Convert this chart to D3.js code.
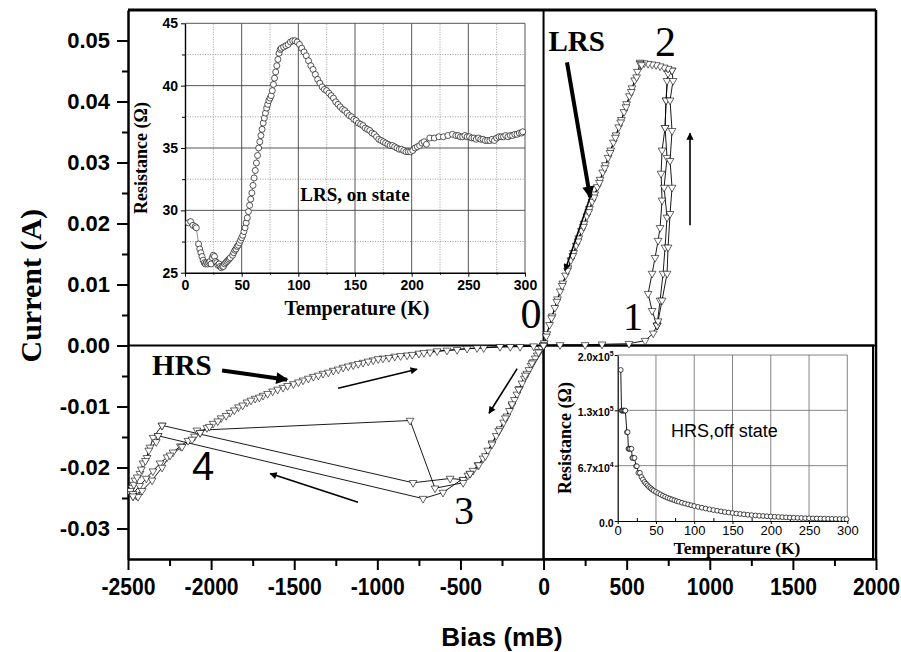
<!DOCTYPE html>
<html>
<head>
<meta charset="utf-8">
<script src="https://cdn.jsdelivr.net/npm/d3@7"></script>
<style>
  body { margin: 0; background: #fff; }
  svg { display: block; }
</style>
</head>
<body>
<div id="chart"></div>
<script>
// ---------- main I-V loop : [bias (mB), current (A)] ----------
const hrsPos = [[0, 0], [99, 0.0001], [250, 0.0001], [352, 0.0002], [514, 0.0003], [611, 0.0008], [660, 0.0020], [683, 0.0033]];
const setUp1 = [[683, 0.0033], [701, 0.0074], [719, 0.0118], [731, 0.0161], [743, 0.0210], [725, 0.0259], [743, 0.0308], [731, 0.0357], [737, 0.0402], [743, 0.0434], [749, 0.0451]];
const setUp2 = [[683, 0.0033], [653, 0.0057], [629, 0.0085], [653, 0.0118], [671, 0.0144], [689, 0.0172], [701, 0.0193], [713, 0.0238], [707, 0.0282], [713, 0.0320], [731, 0.0357], [737, 0.0402], [749, 0.0446]];
const setUp3 = [[689, 0.0040], [713, 0.0074], [743, 0.0118], [749, 0.0161], [761, 0.0216], [773, 0.0259], [761, 0.0303], [773, 0.0352], [761, 0.0402], [779, 0.0434], [773, 0.0451]];
const topFlat = [[773, 0.0451], [749, 0.0454], [725, 0.0456], [701, 0.0458], [677, 0.0460], [653, 0.0461], [629, 0.0462], [605, 0.0463], [581, 0.0464]];
const lrsDown1 = [[581, 0.0462], [565, 0.0449], [548, 0.0435], [532, 0.0422], [516, 0.0409], [500, 0.0396], [484, 0.0383], [468, 0.0370], [452, 0.0358], [436, 0.0345], [420, 0.0333], [404, 0.0320], [388, 0.0308], [372, 0.0296], [356, 0.0284], [340, 0.0272], [324, 0.0260], [308, 0.0248], [292, 0.0236], [276, 0.0224], [260, 0.0212], [244, 0.0200], [228, 0.0188], [212, 0.0176], [196, 0.0164], [180, 0.0152], [164, 0.0140], [148, 0.0127], [132, 0.0115], [116, 0.0102], [100, 0.0089], [84, 0.0076], [68, 0.0062], [52, 0.0048], [36, 0.0034], [20, 0.0019], [4, 0.0004]];
const lrsDown2 = [[590, 0.0460], [560, 0.0440], [528, 0.0416], [496, 0.0391], [464, 0.0366], [432, 0.0341], [400, 0.0316], [368, 0.0291], [336, 0.0267], [304, 0.0243], [272, 0.0219], [240, 0.0195], [208, 0.0171], [176, 0.0147], [144, 0.0123], [112, 0.0098], [80, 0.0072], [48, 0.0045], [16, 0.0015], [0, 0]];
const lrsNeg1 = [[0, 0], [-12, -0.0005], [-25, -0.0010], [-38, -0.0016], [-50, -0.0021], [-62, -0.0027], [-75, -0.0033], [-88, -0.0040], [-100, -0.0046], [-115, -0.0054], [-130, -0.0062], [-145, -0.0071], [-160, -0.0080], [-175, -0.0089], [-190, -0.0098], [-205, -0.0107], [-220, -0.0116], [-240, -0.0126], [-262, -0.0137], [-285, -0.0148], [-310, -0.0160], [-335, -0.0172], [-364, -0.0185], [-395, -0.0196], [-424, -0.0205], [-455, -0.0213], [-484, -0.0220]];
const lrsNeg2 = [[0, 0], [-30, -0.0011], [-70, -0.0029], [-110, -0.0049], [-150, -0.0072], [-190, -0.0096], [-230, -0.0119], [-270, -0.0140], [-310, -0.0162], [-350, -0.0181], [-390, -0.0196], [-442, -0.0210]];
const resetA = [[-484, -0.0220], [-562, -0.0218], [-785, -0.0225], [-2295, -0.0131]];
const resetB = [[-442, -0.0210], [-605, -0.0241], [-725, -0.0251], [-2319, -0.0148]];
const resetC = [[-484, -0.0225], [-653, -0.0234], [-803, -0.0123], [-2085, -0.0139]];
const zigA = [[-2295, -0.0131], [-2349, -0.0151], [-2367, -0.0167], [-2385, -0.0184], [-2409, -0.0193], [-2428, -0.0210], [-2458, -0.0221], [-2476, -0.0233], [-2488, -0.0241], [-2450, -0.0246]];
const zigB = [[-2319, -0.0148], [-2330, -0.0158], [-2375, -0.0172], [-2395, -0.0189], [-2420, -0.0203], [-2445, -0.0216], [-2465, -0.0228], [-2485, -0.0238], [-2470, -0.0247], [-2440, -0.0248]];
const hrsRet1 = [[-2470, -0.0243], [-2430, -0.0230], [-2390, -0.0218], [-2350, -0.0206], [-2307, -0.0193], [-2265, -0.0183], [-2229, -0.0175], [-2185, -0.0165], [-2139, -0.0156], [-2100, -0.0149], [-2066, -0.0143], [-2025, -0.0135], [-1988, -0.0128], [-1940, -0.0119], [-1886, -0.0110], [-1835, -0.0101], [-1784, -0.0093], [-1735, -0.0087], [-1688, -0.0082], [-1630, -0.0075], [-1567, -0.0069], [-1505, -0.0063], [-1447, -0.0057], [-1385, -0.0051], [-1327, -0.0046], [-1265, -0.0041], [-1206, -0.0036], [-1145, -0.0032], [-1086, -0.0028], [-1025, -0.0024], [-966, -0.0021], [-895, -0.0018], [-821, -0.0016], [-750, -0.0013], [-683, -0.0011], [-581, -0.0008], [-460, -0.0005], [-360, -0.0004], [-262, -0.0002], [-141, -0.0002], [-60, -0.0001], [0, 0]];
const hrsRet2 = [[-2470, -0.0247], [-2415, -0.0238], [-2355, -0.0221], [-2295, -0.0200], [-2247, -0.0180], [-2175, -0.0166], [-2115, -0.0154], [-2066, -0.0143], [-2010, -0.0133], [-1960, -0.0124], [-1910, -0.0115], [-1860, -0.0106], [-1810, -0.0098], [-1760, -0.0090], [-1710, -0.0085], [-1660, -0.0079], [-1600, -0.0072], [-1540, -0.0066], [-1475, -0.0060], [-1415, -0.0054], [-1355, -0.0049], [-1295, -0.0044], [-1235, -0.0039], [-1175, -0.0034], [-1115, -0.0030], [-1055, -0.0026], [-995, -0.0022], [-930, -0.0020], [-860, -0.0017], [-790, -0.0015], [-720, -0.0012], [-640, -0.0009], [-520, -0.0007], [-400, -0.0004], [-200, -0.0002], [0, 0]];
const ivSweeps = [hrsPos, setUp1, setUp2, setUp3, topFlat, lrsDown1, lrsDown2, lrsNeg1, lrsNeg2, resetA, resetB, resetC, zigA, zigB, hrsRet1, hrsRet2];

const biasTicks = [-2500, -2000, -1500, -1000, -500, 0, 500, 1000, 1500, 2000];
const biasMinor = [-2250, -1750, -1250, -750, -250, 250, 750, 1250, 1750];
const currentTicks = [-0.03, -0.02, -0.01, 0, 0.01, 0.02, 0.03, 0.04, 0.05];
const currentMinor = [-0.025, -0.015, -0.005, 0.005, 0.015, 0.025, 0.035, 0.045];

// ---------- inset 1 : LRS, on state  [T (K), R (ohm)] ----------
const lrsOnState = [[3, 29.0], [5, 29.1], [7, 28.8], [9, 28.7], [10, 28.6], [12, 27.3], [13, 26.9], [14, 26.6], [15, 26.3], [16, 26.0], [17, 25.8], [18, 25.7], [19, 25.8], [20, 25.7], [21, 25.8], [22, 25.9], [23, 25.7], [24, 26.2], [25, 26.4], [26, 26.3], [27, 25.9], [28, 25.8], [29, 25.6], [30, 25.7], [31, 25.5], [32, 25.4], [33, 25.5], [34, 25.5], [35, 25.7], [36, 25.8], [37, 25.9], [38, 26.0], [39, 26.1], [40, 26.2], [42, 26.4], [43, 26.6], [44, 26.8], [45, 26.9], [46, 27.1], [47, 27.2], [48, 27.4], [49, 27.6], [50, 27.8], [51, 28.0], [52, 28.3], [53, 28.6], [54, 29.0], [55, 29.4], [56, 29.9], [57, 30.4], [58, 30.9], [59, 31.4], [60, 32.0], [61, 32.6], [62, 33.2], [63, 33.8], [64, 34.4], [65, 35.0], [66, 35.5], [67, 36.0], [68, 36.5], [69, 37.0], [70, 37.4], [71, 37.8], [72, 38.2], [73, 38.5], [74, 38.8], [75, 39.0], [76, 39.2], [77, 39.6], [78, 40.1], [79, 40.6], [80, 41.1], [81, 41.6], [82, 42.1], [83, 42.6], [84, 42.9], [85, 43.0], [87, 43.1], [89, 43.2], [91, 43.3], [93, 43.5], [95, 43.6], [97, 43.6], [99, 43.5], [101, 43.3], [103, 43.0], [105, 42.7], [107, 42.4], [109, 42.0], [111, 41.6], [113, 41.3], [115, 40.9], [117, 40.5], [119, 40.2], [121, 39.9], [123, 39.7], [125, 39.6], [127, 39.4], [129, 39.2], [131, 39.0], [133, 38.7], [135, 38.5], [137, 38.3], [139, 38.1], [141, 38.0], [143, 37.8], [145, 37.6], [147, 37.5], [149, 37.3], [151, 37.2], [153, 37.0], [155, 36.9], [157, 36.8], [159, 36.6], [161, 36.5], [163, 36.4], [165, 36.2], [167, 36.1], [169, 35.9], [171, 35.7], [173, 35.6], [175, 35.5], [177, 35.4], [179, 35.3], [181, 35.2], [183, 35.2], [185, 35.1], [187, 35.0], [189, 34.9], [191, 34.9], [193, 34.8], [195, 34.7], [197, 34.7], [199, 34.7], [201, 34.8], [203, 35.0], [205, 35.1], [207, 35.2], [209, 35.4], [211, 35.5], [213, 35.3], [216, 35.8], [220, 35.8], [224, 35.9], [228, 35.9], [232, 36.0], [236, 36.1], [239, 36.0], [241, 36.0], [243, 35.9], [245, 35.9], [247, 36.0], [249, 35.9], [251, 35.9], [253, 35.8], [255, 35.8], [257, 35.7], [259, 35.8], [261, 35.7], [263, 35.7], [265, 35.6], [267, 35.6], [269, 35.6], [271, 35.7], [273, 35.6], [275, 35.8], [277, 35.9], [279, 35.9], [281, 35.9], [283, 36.0], [285, 35.9], [287, 36.0], [289, 36.0], [291, 36.1], [293, 36.1], [295, 36.2], [297, 36.2], [298, 36.3]];
const lrsTempTicks = [0, 50, 100, 150, 200, 250, 300];
const lrsTempMinor = [25, 75, 125, 175, 225, 275];
const lrsResTicks = [25, 30, 35, 40, 45];
const lrsResMinor = [27.5, 32.5, 37.5, 42.5];

// ---------- inset 2 : HRS, off state  [T (K), R (ohm)] ----------
const hrsOffState = [[4, 182000], [5, 133000], [6, 133000], [7, 133000], [8, 133000], [9, 133000], [10, 133000], [12, 107000], [13, 107000], [14, 87000], [15, 87000], [16, 87000], [18, 87000], [19, 76000], [20, 76000], [22, 76000], [24, 66000], [25, 66000], [27, 58000], [29, 58000], [31, 53000], [33, 50000], [35, 47000], [37, 45000], [39, 43000], [41, 41000], [43, 39500], [45, 38000], [47, 36500], [50, 35000], [53, 33500], [56, 32000], [59, 30500], [62, 29200], [65, 28000], [68, 27000], [71, 26000], [74, 25000], [77, 24000], [80, 23200], [84, 22000], [88, 21000], [92, 20000], [96, 19000], [100, 18000], [105, 17000], [110, 16000], [115, 15000], [120, 14000], [125, 13200], [130, 12400], [135, 11600], [140, 10800], [145, 10200], [150, 9600], [155, 9000], [160, 8500], [165, 8000], [170, 7500], [175, 7100], [180, 6700], [185, 6300], [190, 6000], [195, 5700], [200, 5400], [205, 5100], [210, 4900], [215, 4600], [220, 4400], [225, 4200], [230, 4000], [235, 3800], [240, 3600], [245, 3400], [250, 3300], [255, 3100], [260, 3000], [265, 2900], [270, 2800], [275, 2700], [280, 2600], [285, 2500], [290, 2400], [295, 2300], [299, 2200]];
const hrsTempTicks = [0, 50, 100, 150, 200, 250, 300];
const hrsTempMinor = [25, 75, 125, 175, 225, 275];
const hrsResTicks = [0, 66667, 133333, 200000];
const hrsResLabels = ['0.0', '6.7x10^4', '1.3x10^5', '2.0x10^5'];

// ---------- annotations (data units of the main plot) ----------
const thickArrows = [[[141, 0.0464], [280, 0.0243]], [[-1934, -0.0041], [-1543, -0.0056]]];
const thinArrows = [[[280, 0.0243], [129, 0.0123]], [[881, 0.0197], [881, 0.0348]], [[-1236, -0.0070], [-761, -0.0039]], [[-159, -0.0038], [-328, -0.0111]], [[-1116, -0.0257], [-1645, -0.0210]]];
const noteLabels = [
  { text: 'LRS', at: [30, 0.0482], anchor: 'start', font: 'serif', size: 29, weight: 'bold' },
  { text: 'HRS', at: [-2355, -0.0049], anchor: 'start', font: 'serif', size: 29, weight: 'bold' },
  { text: '2', at: [670, 0.0474], anchor: 'start', font: 'serif', size: 42, weight: 'normal' },
  { text: '0', at: [-75, 0.0028], anchor: 'middle', font: 'serif', size: 42, weight: 'normal' },
  { text: '1', at: [538, 0.0025], anchor: 'middle', font: 'serif', size: 40, weight: 'normal' },
  { text: '3', at: [-478, -0.0292], anchor: 'middle', font: 'serif', size: 40, weight: 'normal' },
  { text: '4', at: [-2048, -0.0221], anchor: 'middle', font: 'sans', size: 40, weight: 'normal' },
];

const SANS = '"Liberation Sans", Arial, Helvetica, sans-serif';
const SERIF = '"Liberation Serif", "Times New Roman", Times, serif';

const svg = d3.select('#chart').append('svg')
  .attr('width', 901)
  .attr('height', 652)
  .style('font-family', SANS);

svg.append('rect').attr('width', 901).attr('height', 652).attr('fill', '#fff');

// main scales
const x = d3.scaleLinear().domain([-2500, 2000]).range([128, 876]);
const y = d3.scaleLinear().domain([-0.035, 0.055]).range([559, 10]);

// ---------- inset 2 box (lower right quadrant) ----------
svg.append('rect')
  .attr('x', x(0)).attr('y', y(0))
  .attr('width', 873 - x(0)).attr('height', y(-0.035) - y(0))
  .attr('fill', '#fff').attr('stroke', '#000').attr('stroke-width', 2);

// ---------- inset 1 : LRS ----------
function drawLrsInset() {
  const xi = d3.scaleLinear().domain([0, 300]).range([185, 525]);
  const yi = d3.scaleLinear().domain([25, 45]).range([272.7, 23.3]);
  const g = svg.append('g');

  // grid
  g.selectAll('.gmx').data(lrsTempMinor).join('line')
    .attr('x1', (d) => xi(d)).attr('x2', (d) => xi(d)).attr('y1', yi(25)).attr('y2', yi(45))
    .attr('stroke', '#888').attr('stroke-width', 0.8).attr('stroke-dasharray', '1,1.5');
  g.selectAll('.gmy').data(lrsResMinor).join('line')
    .attr('y1', (d) => yi(d)).attr('y2', (d) => yi(d)).attr('x1', xi(0)).attr('x2', xi(300))
    .attr('stroke', '#888').attr('stroke-width', 0.8).attr('stroke-dasharray', '1,1.5');
  g.selectAll('.gx').data(lrsTempTicks.slice(1)).join('line')
    .attr('x1', (d) => xi(d)).attr('x2', (d) => xi(d)).attr('y1', yi(25)).attr('y2', yi(45))
    .attr('stroke', '#444').attr('stroke-width', 0.9);
  g.selectAll('.gy').data(lrsResTicks.slice(1)).join('line')
    .attr('y1', (d) => yi(d)).attr('y2', (d) => yi(d)).attr('x1', xi(0)).attr('x2', xi(300))
    .attr('stroke', '#444').attr('stroke-width', 0.9);

  // axes
  const ax = g.append('g').attr('transform', `translate(0,${yi(25)})`)
    .call(d3.axisBottom(xi).tickValues(lrsTempTicks).tickSize(4).tickSizeOuter(0).tickPadding(3));
  g.append('g').attr('transform', `translate(0,${yi(25)})`)
    .call(d3.axisBottom(xi).tickValues(lrsTempMinor).tickSize(2).tickFormat(''))
    .select('.domain').remove();
  const ay = g.append('g').attr('transform', `translate(${xi(0)},0)`)
    .call(d3.axisLeft(yi).tickValues(lrsResTicks).tickSize(4).tickSizeOuter(0).tickPadding(3));
  g.append('g').attr('transform', `translate(${xi(0)},0)`)
    .call(d3.axisLeft(yi).tickValues(lrsResMinor).tickSize(3).tickFormat(''))
    .select('.domain').remove();
  [ax, ay].forEach((a) => {
    a.select('.domain').attr('stroke-width', 1.4);
    a.selectAll('text').attr('font-family', SANS).attr('font-weight', 'bold')
      .attr('font-size', 14).attr('fill', '#000');
  });

  // curve
  const line = d3.line().x((d) => xi(d[0])).y((d) => yi(d[1]));
  g.append('path').datum(lrsOnState).attr('d', line)
    .attr('fill', 'none').attr('stroke', '#777').attr('stroke-width', 0.8);
  g.selectAll('circle').data(lrsOnState).join('circle')
    .attr('cx', (d) => xi(d[0])).attr('cy', (d) => yi(d[1])).attr('r', 3)
    .attr('fill', '#fff').attr('stroke', '#111').attr('stroke-width', 0.7);

  // titles
  g.append('text').attr('transform', `translate(147,${(yi(25) + yi(45)) / 2 + 10}) rotate(-90)`)
    .attr('text-anchor', 'middle').attr('font-family', SERIF).attr('font-weight', 'bold')
    .attr('font-size', 18).text('Resistance (\u03A9)');
  g.append('text').attr('x', 357).attr('y', 315)
    .attr('text-anchor', 'middle').attr('font-family', SERIF).attr('font-weight', 'bold')
    .attr('font-size', 20).text('Temperature (K)');
  g.append('text').attr('x', 355).attr('y', 201)
    .attr('text-anchor', 'middle').attr('font-family', SERIF).attr('font-weight', 'bold')
    .attr('font-size', 19).text('LRS, on state');
}

// ---------- inset 2 : HRS ----------
function drawHrsInset() {
  const xh = d3.scaleLinear().domain([0, 300]).range([617.7, 847.3]);
  const yh = d3.scaleLinear().domain([0, 200000]).range([521, 355]);
  const g = svg.append('g');

  g.selectAll('.gx').data(hrsTempTicks.slice(1)).join('line')
    .attr('x1', (d) => xh(d)).attr('x2', (d) => xh(d)).attr('y1', yh(0)).attr('y2', yh(200000))
    .attr('stroke', '#777').attr('stroke-width', 0.9);
  g.selectAll('.gy').data(hrsResTicks.slice(1)).join('line')
    .attr('y1', (d) => yh(d)).attr('y2', (d) => yh(d)).attr('x1', xh(0)).attr('x2', xh(300))
    .attr('stroke', '#777').attr('stroke-width', 0.9);

  const ax = g.append('g').attr('transform', `translate(0,${yh(0)})`)
    .call(d3.axisBottom(xh).tickValues(hrsTempTicks).tickSize(3).tickSizeOuter(0).tickPadding(2));
  g.append('g').attr('transform', `translate(0,${yh(0)})`)
    .call(d3.axisTop(xh).tickValues(hrsTempMinor).tickSize(3).tickFormat(''))
    .select('.domain').remove();
  ax.select('.domain').attr('stroke-width', 1.2);
  ax.selectAll('text').attr('font-family', SANS).attr('font-size', 13).attr('fill', '#000');

  const ay = g.append('g').attr('transform', `translate(${xh(0)},0)`)
    .call(d3.axisLeft(yh).tickValues(hrsResTicks).tickSize(3).tickSizeOuter(0).tickFormat(''));
  ay.select('.domain').attr('stroke-width', 1.2);

  // tick labels with superscript exponent
  const lab = g.selectAll('.ylab').data(hrsResTicks).join('text')
    .attr('x', xh(0) - 4).attr('y', (d) => yh(d) + 6)
    .attr('text-anchor', 'end').attr('font-family', SANS).attr('font-weight', 'bold')
    .attr('font-size', 10.5);
  lab.each(function (d, i) {
    const parts = hrsResLabels[i].split('^');
    const t = d3.select(this);
    t.append('tspan').text(parts[0]);
    if (parts[1]) t.append('tspan').attr('dy', -5).attr('font-size', 7).text(parts[1]);
  });

  const line = d3.line().x((d) => xh(d[0])).y((d) => yh(d[1]));
  g.append('path').datum(hrsOffState).attr('d', line)
    .attr('fill', 'none').attr('stroke', '#000').attr('stroke-width', 0.9);
  g.selectAll('circle').data(hrsOffState).join('circle')
    .attr('cx', (d) => xh(d[0])).attr('cy', (d) => yh(d[1])).attr('r', 2.4)
    .attr('fill', '#fff').attr('stroke', '#000').attr('stroke-width', 0.7);

  g.append('text').attr('transform', `translate(571,${(yh(0) + yh(200000)) / 2}) rotate(-90)`)
    .attr('text-anchor', 'middle').attr('font-family', SERIF).attr('font-weight', 'bold')
    .attr('font-size', 18).text('Resistance  (\u03A9)');
  g.append('text').attr('x', 737).attr('y', 554)
    .attr('text-anchor', 'middle').attr('font-family', SERIF).attr('font-weight', 'bold')
    .attr('font-size', 17.5).text('Temperature (K)');
  g.append('text').attr('x', 671).attr('y', 437)
    .attr('font-family', SANS).attr('font-size', 18).text('HRS,off state');
}

drawLrsInset();
drawHrsInset();

// ---------- main frame and axes ----------
svg.append('line').attr('x1', x(-2500)).attr('x2', x(2000)).attr('y1', y(0.055)).attr('y2', y(0.055))
  .attr('stroke', '#000').attr('stroke-width', 3);
svg.append('line').attr('x1', x(2000)).attr('x2', x(2000)).attr('y1', y(0.055)).attr('y2', y(-0.035))
  .attr('stroke', '#000').attr('stroke-width', 2.5);
svg.append('line').attr('x1', x(0)).attr('x2', x(0)).attr('y1', y(0.055)).attr('y2', y(-0.035))
  .attr('stroke', '#000').attr('stroke-width', 2);
svg.append('line').attr('x1', x(-2500)).attr('x2', x(2000)).attr('y1', y(0)).attr('y2', y(0))
  .attr('stroke', '#000').attr('stroke-width', 2);

const yAxisG = svg.append('g').attr('transform', `translate(${x(-2500)},0)`)
  .call(d3.axisLeft(y).tickValues(currentTicks).tickSize(11).tickSizeOuter(0).tickPadding(7)
    .tickFormat((d) => d.toFixed(2)));
svg.append('g').attr('transform', `translate(${x(-2500)},0)`)
  .call(d3.axisLeft(y).tickValues(currentMinor).tickSize(6).tickFormat(''))
  .call((g) => g.select('.domain').remove())
  .selectAll('line').attr('stroke-width', 2);

const xAxisG = svg.append('g').attr('transform', `translate(0,${y(-0.035)})`)
  .call(d3.axisBottom(x).tickValues(biasTicks).tickSize(11).tickSizeOuter(0).tickPadding(8)
    .tickFormat((d) => String(d)));
svg.append('g').attr('transform', `translate(0,${y(-0.035)})`)
  .call(d3.axisBottom(x).tickValues(biasMinor).tickSize(7).tickFormat(''))
  .call((g) => g.select('.domain').remove())
  .selectAll('line').attr('stroke-width', 2);

[yAxisG, xAxisG].forEach((a) => {
  a.select('.domain').attr('stroke-width', 2.5);
  a.selectAll('.tick line').attr('stroke-width', 2);
  a.selectAll('text').attr('font-family', SANS).attr('font-weight', 'bold').attr('fill', '#000');
});
yAxisG.selectAll('text').attr('font-size', 22);
// bias labels are drawn a little condensed, as in the original figure
xAxisG.selectAll('text').attr('font-size', 24).attr('transform', 'scale(0.88,1)');

svg.append('text').attr('transform', `translate(41,${y(0.0098)}) rotate(-90)`)
  .attr('text-anchor', 'middle').attr('font-family', SERIF).attr('font-weight', 'bold')
  .attr('font-size', 30).text('Current (A)');
svg.append('text').attr('x', x(-250)).attr('y', 646)
  .attr('text-anchor', 'middle').attr('font-family', SANS).attr('font-weight', 'bold')
  .attr('font-size', 26).text('Bias (mB)');

// ---------- I-V data ----------
svg.append('clipPath').attr('id', 'plotClip').append('rect')
  .attr('x', x(-2500)).attr('y', y(0.055)).attr('width', x(2000) - x(-2500)).attr('height', y(-0.035) - y(0.055));
const dataG = svg.append('g').attr('clip-path', 'url(#plotClip)');
const ivLine = d3.line().x((d) => x(d[0])).y((d) => y(d[1]));
const tri = d3.symbol().type(d3.symbolTriangle).size(26);

ivSweeps.forEach((sweep) => {
  dataG.append('path').datum(sweep).attr('d', ivLine)
    .attr('fill', 'none').attr('stroke', '#000').attr('stroke-width', 0.9);
});
ivSweeps.forEach((sweep) => {
  dataG.append('g').selectAll('path').data(sweep).join('path')
    .attr('d', tri)
    .attr('transform', (d) => `translate(${x(d[0])},${y(d[1])}) rotate(180)`)
    .attr('fill', '#fff').attr('stroke', '#000').attr('stroke-width', 0.6);
});

// ---------- arrows ----------
const defs = svg.append('defs');
defs.append('marker').attr('id', 'headThick').attr('viewBox', '0 0 10 10')
  .attr('refX', 9).attr('refY', 5).attr('markerWidth', 4).attr('markerHeight', 3)
  .attr('orient', 'auto').attr('markerUnits', 'strokeWidth')
  .append('path').attr('d', 'M0,0 L10,5 L0,10 z').attr('fill', '#000');
defs.append('marker').attr('id', 'headThin').attr('viewBox', '0 0 10 10')
  .attr('refX', 9).attr('refY', 5).attr('markerWidth', 7).attr('markerHeight', 4.5)
  .attr('orient', 'auto').attr('markerUnits', 'strokeWidth')
  .append('path').attr('d', 'M0,0 L10,5 L0,10 z').attr('fill', '#000');

svg.selectAll('.thick').data(thickArrows).join('line')
  .attr('x1', (d) => x(d[0][0])).attr('y1', (d) => y(d[0][1]))
  .attr('x2', (d) => x(d[1][0])).attr('y2', (d) => y(d[1][1]))
  .attr('stroke', '#000').attr('stroke-width', 4).attr('marker-end', 'url(#headThick)');
svg.selectAll('.thin').data(thinArrows).join('line')
  .attr('x1', (d) => x(d[0][0])).attr('y1', (d) => y(d[0][1]))
  .attr('x2', (d) => x(d[1][0])).attr('y2', (d) => y(d[1][1]))
  .attr('stroke', '#000').attr('stroke-width', 1.6).attr('marker-end', 'url(#headThin)');

svg.selectAll('.note').data(noteLabels).join('text')
  .attr('x', (d) => x(d.at[0])).attr('y', (d) => y(d.at[1]))
  .attr('text-anchor', (d) => d.anchor)
  .attr('font-family', (d) => (d.font === 'serif' ? SERIF : SANS))
  .attr('font-weight', (d) => d.weight)
  .attr('font-size', (d) => d.size)
  .text((d) => d.text);
</script>
</body>
</html>
